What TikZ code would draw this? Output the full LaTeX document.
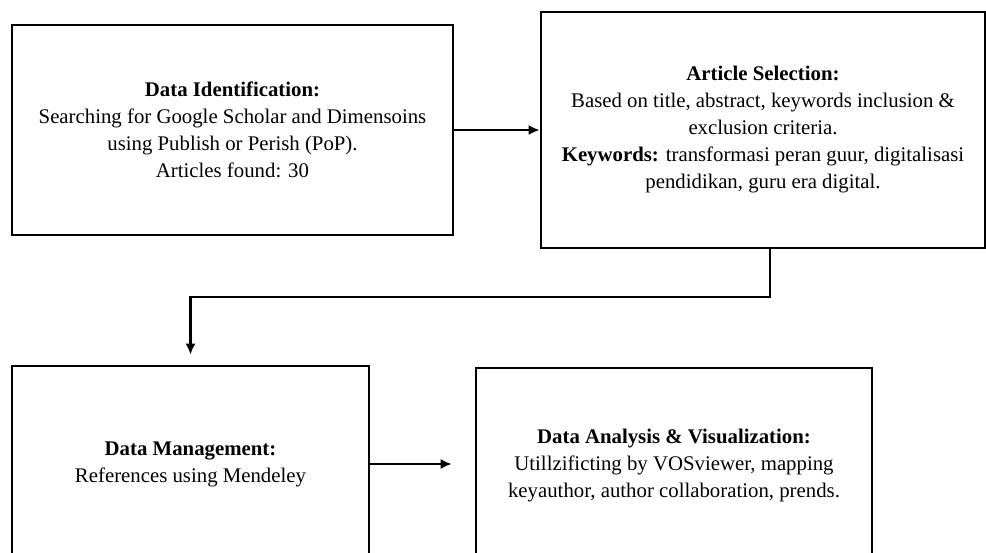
\documentclass[tikz,border=0pt]{standalone}
\usepackage{fontspec}
\setmainfont{Liberation Serif}
\usetikzlibrary{arrows, arrows.meta, positioning}

\begin{document}
\begin{tikzpicture}[
			x=1pt, y=-1pt,
			stage/.style = {draw, line width=2.6pt, rectangle, inner sep=0pt, align=center,
				font=\fontsize{20.8}{27}\selectfont},
			link/.style  = {->, line width=2.2pt},
			>={Latex[length=11pt,width=10pt]}]
			
			\useasboundingbox (0,0) rectangle (986,553);
			\clip (0,0) rectangle (986,553);
			
			\node[stage, minimum width=441pt, minimum height=210pt] (ident) at (232.5,130)
			{\textbf{Data Identification:}\\ Searching for Google Scholar and Dimensoins\\ using Publish or Perish (PoP).\\ Articles found: 30};
			
			\node[stage, minimum width=444pt, minimum height=236pt] (select) at (763,130)
			{\textbf{Article Selection:}\\ Based on title, abstract, keywords inclusion \&\\ exclusion criteria.\\ \textbf{Keywords:} transformasi peran guur, digitalisasi\\ pendidikan, guru era digital.};
			
			\node[stage, minimum width=357pt, minimum height=196pt] (manage) at (190.5,464)
			{\textbf{Data Management:}\\ References using Mendeley};
			
			\node[stage, minimum width=396pt, minimum height=196pt] (analysis) at (674,466)
			{\textbf{Data Analysis \& Visualization:}\\ Utillzificting by VOSviewer, mapping\\ keyauthor, author collaboration, prends.};
			
			\coordinate (turn) at (190.5,297);
			
			\draw[link] (ident.east) -- (select.west);
			\draw[link, shorten >=10pt] ([xshift=7pt]select.south) |- (turn) -- (manage.north);
			\draw[link, shorten >=23pt] (manage.east) -- (manage.east -| analysis.west);
		\end{tikzpicture}
\end{document}
